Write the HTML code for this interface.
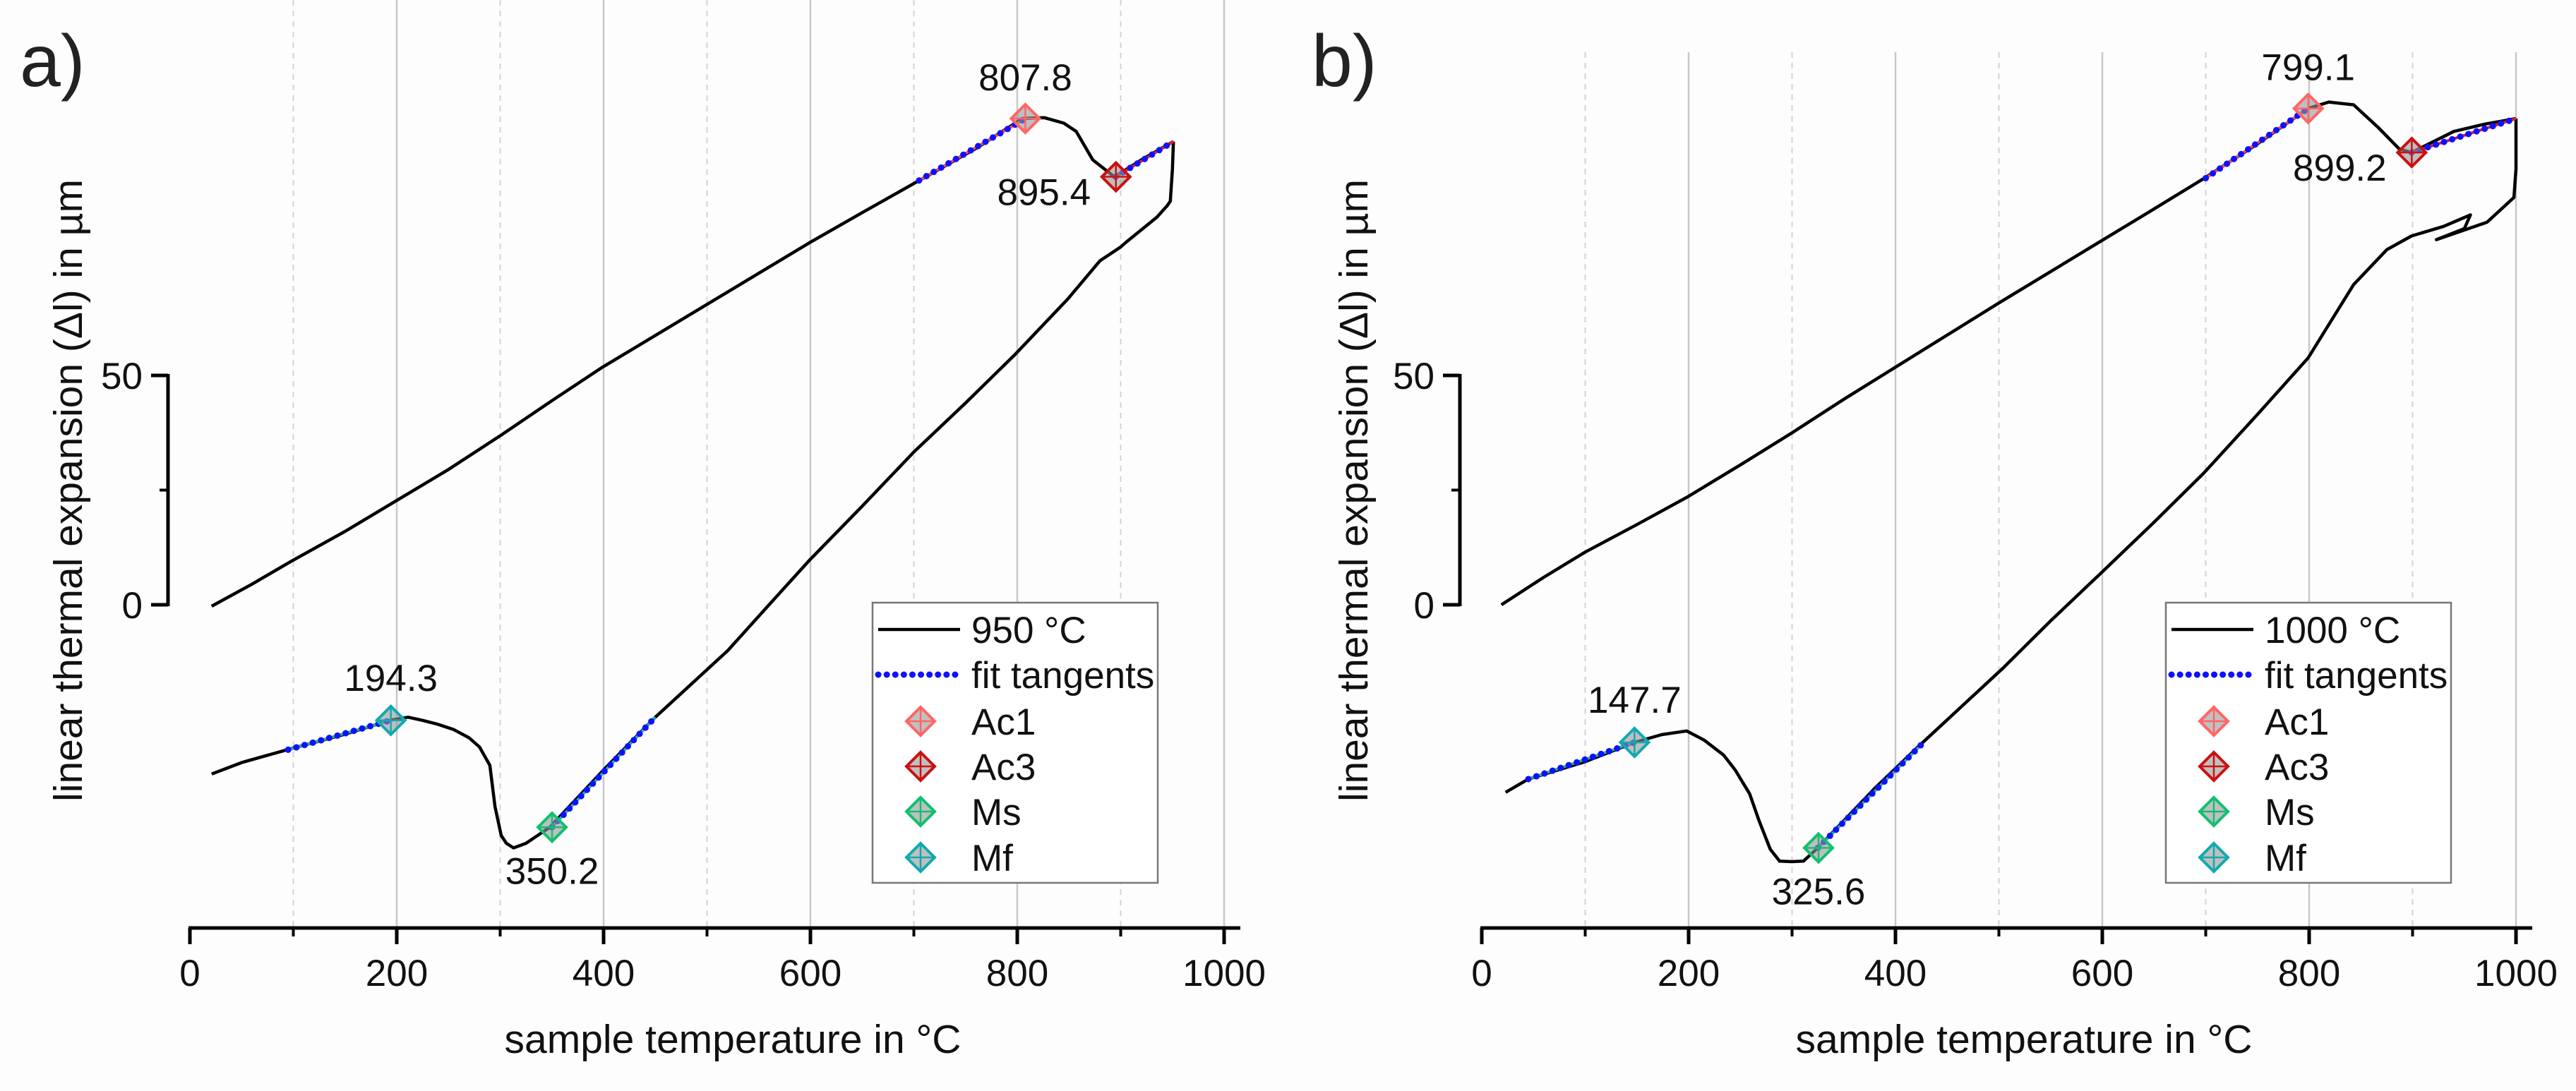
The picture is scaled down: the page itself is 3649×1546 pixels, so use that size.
<!DOCTYPE html>
<html><head><meta charset="utf-8"><style>
html,body{margin:0;padding:0;background:#fff;}
svg{display:block;font-family:"Liberation Sans",Arial,sans-serif;}
</style></head><body>
<svg id="fig" width="3649" height="1546" viewBox="0 0 3649 1546" xmlns="http://www.w3.org/2000/svg">
<rect x="0" y="0" width="3649" height="1546" fill="#fdfdfd"/>
</svg>
<script>
// ---- data: panel a (950 °C) ----
const aHeatT = [21, 60, 98, 150, 199, 250, 301, 350, 399, 500, 599, 650, 706, 760, 805, 826, 845, 857, 873, 894, 920, 951];
const aHeatV = [-0.3, 4.5, 9.5, 16, 22.6, 29.5, 37, 44.5, 51.8, 65.5, 78.9, 85.5, 92.6, 99.5, 106, 106.2, 105, 103.2, 97, 93.3, 97, 101];
const aCoolT = [951, 950, 948, 945, 935, 905, 900, 880, 849, 798, 750, 700, 650, 599, 560, 520, 450, 400, 348, 325, 313, 306, 301, 295, 290, 280, 270, 255, 239, 225, 211, 193, 150, 94, 50, 21];
const aCoolV = [101, 95, 88, 87, 84.5, 79, 78, 75, 66.7, 54.6, 44, 33.3, 21.5, 9.7, 0, -10, -24.5, -36, -48.5, -52, -53, -52, -50.3, -44, -35, -31, -29, -27.2, -26, -25.2, -24.5, -25.2, -28.2, -31.6, -34.4, -36.9];
const aTangT = [[705, 808], [895, 951], [95, 194], [350, 450]];
const aTangV = [[92.5, 106], [93.3, 101], [-31.6, -25.2], [-48.5, -24.5]];
const aPtsT = [807.8, 895.4, 350.2, 194.3];
const aPtsV = [106, 93.3, -48.5, -25.2];
const aLabelTxt = ['807.8', '895.4', '350.2', '194.3'];

// ---- data: panel b (1000 °C) ----
const bHeatT = [19, 60, 100, 150, 198, 250, 300, 350, 400, 500, 601, 650, 698, 750, 799, 819, 843, 867, 887, 899, 940, 970, 1000];
const bHeatV = [0, 6, 11.5, 17.5, 23.4, 30.5, 37.5, 44.8, 51.8, 65.8, 79.6, 86.3, 92.9, 100.5, 108.2, 109.6, 109, 104, 99.4, 98.6, 103.2, 104.8, 106];
const bCoolT = [1000, 1000, 998, 972, 923, 950, 956, 930, 899, 875, 843, 799, 750, 698, 650, 601, 550, 504, 424, 380, 325, 311, 300, 288, 279, 268, 259, 245, 234, 215, 198, 174, 147.7, 100, 45, 23];
const bCoolV = [106, 95, 88.8, 83.4, 79.6, 82, 85, 82.5, 80.4, 77.4, 69.8, 53.8, 41.5, 28.7, 18, 7.4, -3.5, -13.8, -30.5, -40, -53, -55.9, -56, -55.9, -53.3, -47, -41.2, -36, -32.8, -29.5, -27.5, -28.3, -30, -34.2, -38, -40.9];
const bTangT = [[700, 799], [899, 1000], [45, 147.7], [325, 425]];
const bTangV = [[93, 108.2], [98.6, 106], [-38, -30], [-53, -30.5]];
const bPtsT = [799.1, 899.2, 325.6, 147.7];
const bPtsV = [108.2, 98.6, -53, -30];
const bLabelTxt = ['799.1', '899.2', '325.6', '147.7'];

const xTicks = [0, 200, 400, 600, 800, 1000];
const xMinor = [100, 300, 500, 700, 900];
const yTicks = [0, 50];

const NS = 'http://www.w3.org/2000/svg';
const svg = document.getElementById('fig');
function mk(tag, attrs, parent) {
  const e = document.createElementNS(NS, tag);
  for (const k in attrs) e.setAttribute(k, attrs[k]);
  (parent || svg).appendChild(e);
  return e;
}
const markerCols = ['#ff6666', '#cc1111', '#11c070', '#11aab0'];
const markerNames = ['Ac1', 'Ac3', 'Ms', 'Mf'];

function panel(cfg) {
  const g = mk('g', {});
  
  
  const X = t => cfg.x0 + t * 1.465;
  const Y = v => 857 - v * 6.5;
  xTicks.concat(xMinor).forEach(t => {
    if (t === 0) return;
    const minor = xMinor.indexOf(t) >= 0;
    const l = mk('line', {x1: X(t), x2: X(t), y1: cfg.gridTop, y2: 1315, stroke: minor ? '#d4d4d4' : '#c8c8c8', 'stroke-width': minor ? 2 : 2.5, 'stroke-dasharray': minor ? '8,7' : 'none'}, g);
    
    
  });
  const xa = mk('line', {x1: X(0) - 2, x2: cfg.xEnd, y1: 1315, y2: 1315, stroke: '#000', 'stroke-width': 5}, g);
  
  
  xTicks.forEach(t => {
    mk('line', {x1: X(t), x2: X(t), y1: 1315, y2: 1338, stroke: '#000', 'stroke-width': 5}, g);
    const tx = mk('text', {x: X(t), y: 1397, 'font-size': 53, 'text-anchor': 'middle', fill: '#111'}, g);
    tx.textContent = t;
    
    
  });
  xMinor.forEach(t => mk('line', {x1: X(t), x2: X(t), y1: 1315, y2: 1327, stroke: '#000', 'stroke-width': 4}, g));
  const yx = cfg.x0 - 31;
  const ya = mk('line', {x1: yx, x2: yx, y1: Y(50) - 2, y2: Y(0) + 2, stroke: '#000', 'stroke-width': 5}, g);
  
  
  yTicks.forEach(v => {
    mk('line', {x1: yx - 24, x2: yx, y1: Y(v), y2: Y(v), stroke: '#000', 'stroke-width': 5}, g);
    const tx = mk('text', {x: yx - 36, y: Y(v) + 19, 'font-size': 53, 'text-anchor': 'end', fill: '#111'}, g);
    tx.textContent = v;
    
    
  });
  mk('line', {x1: yx - 12, x2: yx, y1: Y(25), y2: Y(25), stroke: '#000', 'stroke-width': 4}, g);
  const xt = mk('text', {x: cfg.xTitleX, y: 1492, 'font-size': 57, 'text-anchor': 'middle', fill: '#111'}, g);
  xt.textContent = 'sample temperature in °C';
  
  
  const yt = mk('text', {x: 0, y: 0, 'font-size': 57, 'text-anchor': 'middle', fill: '#111', transform: 'translate(' + cfg.yTitleX + ',695) rotate(-90)'}, g);
  yt.textContent = 'linear thermal expansion (Δl) in µm';
  
  
  const pl = mk('text', {x: cfg.letterX, y: 122, 'font-size': 104, fill: '#222'}, g);
  pl.textContent = cfg.letter;
  
  
  const pathOf = (T, V) => T.map((t, i) => (i ? 'L' : 'M') + X(t).toFixed(1) + ',' + Y(V[i]).toFixed(1)).join(' ');
  const h = mk('path', {d: pathOf(cfg.heatT, cfg.heatV), fill: 'none', stroke: '#000', 'stroke-width': 4.5, 'stroke-linejoin': 'round'}, g);
  
  
  const c = mk('path', {d: pathOf(cfg.coolT, cfg.coolV), fill: 'none', stroke: '#000', 'stroke-width': 4.5, 'stroke-linejoin': 'round'}, g);
  
  
  const under = ['#ff5050', '#dd2020', '#20c070', '#20b0b0'];
  cfg.tangT.forEach((tt, i) => {
    const vv = cfg.tangV[i];
    mk('line', {x1: X(tt[0]), x2: X(tt[1]), y1: Y(vv[0]), y2: Y(vv[1]), stroke: under[i], 'stroke-width': 4}, g);
    const l = mk('line', {x1: X(tt[0]), x2: X(tt[1]), y1: Y(vv[0]), y2: Y(vv[1]), stroke: '#1010ff', 'stroke-width': 9, 'stroke-linecap': 'round', 'stroke-dasharray': '0.1,12'}, g);
    
    
  });
  cfg.ptsT.forEach((t, i) => {
    drawMarker(g, X(t), Y(cfg.ptsV[i]), markerCols[i], 'marker-' + markerNames[i].toLowerCase());
  });
  const lblOff = [[0, -40], [-102, 40], [0, 80], [0, -42]];
  cfg.ptsT.forEach((t, i) => {
    const tx = mk('text', {x: X(t) + lblOff[i][0], y: Y(cfg.ptsV[i]) + lblOff[i][1], 'font-size': 53, 'text-anchor': 'middle', fill: '#111'}, g);
    tx.textContent = cfg.labels[i];
    
    
  });
  const lg = mk('g', {}, g);
  
  
  const lx = cfg.legX;
  mk('rect', {x: lx, y: 854, width: 404, height: 397, fill: '#fff', stroke: '#777', 'stroke-width': 2.5}, lg);
  const rows = [892, 956, 1022, 1086, 1150, 1215];
  mk('line', {x1: lx + 8, x2: lx + 124, y1: rows[0], y2: rows[0], stroke: '#000', 'stroke-width': 4.5}, lg);
  mk('line', {x1: lx + 8, x2: lx + 124, y1: rows[1], y2: rows[1], stroke: '#1010ff', 'stroke-width': 9, 'stroke-linecap': 'round', 'stroke-dasharray': '0.1,12'}, lg);
  [cfg.series, 'fit tangents'].concat(markerNames).forEach((s, i) => {
    if (i >= 2) drawMarker(lg, lx + 68, rows[i], markerCols[i - 2], 'legend-marker-' + s.toLowerCase());
    const tx = mk('text', {x: lx + 140, y: rows[i] + 19, 'font-size': 53, fill: '#111'}, lg);
    tx.textContent = s;
    
    
  });
}
function drawMarker(parent, cx, cy, col, name) {
  const m = mk('g', {}, parent);
  
  
  const r = 20;
  mk('path', {d: `M${cx},${cy - r} L${cx + r},${cy} L${cx},${cy + r} L${cx - r},${cy} Z`, fill: 'rgba(150,150,150,0.6)', stroke: col, 'stroke-width': 4}, m);
  mk('line', {x1: cx - r, x2: cx + r, y1: cy, y2: cy, stroke: col, 'stroke-width': 2.5}, m);
  mk('line', {x1: cx, x2: cx, y1: cy - r, y2: cy + r, stroke: col, 'stroke-width': 2.5}, m);
}
panel({name: 'panel-a', x0: 269, xEnd: 1757, gridTop: 0, xTitleX: 1038, yTitleX: 116, letterX: 28, letter: 'a)',
  heatT: aHeatT, heatV: aHeatV, coolT: aCoolT, coolV: aCoolV, tangT: aTangT, tangV: aTangV, ptsT: aPtsT, ptsV: aPtsV, labels: aLabelTxt,
  legX: 1236, series: '950 °C'});
panel({name: 'panel-b', x0: 2099, xEnd: 3587, gridTop: 74, xTitleX: 2867, yTitleX: 1937, letterX: 1858, letter: 'b)',
  heatT: bHeatT, heatV: bHeatV, coolT: bCoolT, coolV: bCoolV, tangT: bTangT, tangV: bTangV, ptsT: bPtsT, ptsV: bPtsV, labels: bLabelTxt,
  legX: 3068, series: '1000 °C'});
</script>
</body></html>
